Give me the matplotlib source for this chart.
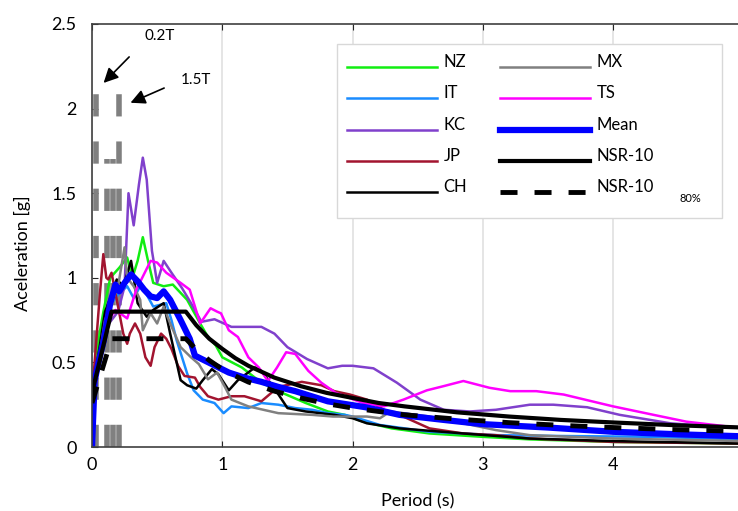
import matplotlib.pyplot as plt
from matplotlib.patches import Rectangle
from matplotlib.transforms import Affine2D

plt.rcParams['font.family'] = ['Lato', 'DejaVu Sans']

# spectra: period (s) and acceleration (g)
nz_T = [0, 0.03, 0.06, 0.09, 0.14, 0.21, 0.27, 0.31, 0.35, 0.39, 0.43, 0.47, 0.55, 0.62, 0.73,
        0.83, 0.89, 0.95, 1.0, 1.15, 1.3, 1.46, 1.64, 1.81, 1.94, 2.08, 2.3, 2.59, 3.0, 3.36,
        4.0, 4.5, 5.0]
nz_Sa = [0.3, 0.5, 0.68, 0.81, 1.0, 1.06, 1.12, 1.0, 1.1, 1.24, 1.10, 0.97, 0.95, 0.96, 0.87,
         0.73, 0.65, 0.6, 0.53, 0.47, 0.38, 0.32, 0.26, 0.21, 0.19, 0.15, 0.11, 0.08, 0.06, 0.045,
         0.03, 0.025, 0.02]

it_T = [0, 0.05, 0.1, 0.15, 0.2, 0.27, 0.32, 0.37, 0.42, 0.47, 0.52, 0.57, 0.61, 0.65, 0.73,
        0.78, 0.85, 0.94, 1.01, 1.07, 1.2, 1.3, 1.43, 1.56, 1.69, 1.81, 1.94, 2.0, 2.21, 2.59,
        3.1, 3.6, 4.31, 5.0]
it_Sa = [0.3, 0.5, 0.7, 0.85, 0.9, 0.95, 0.88, 0.95, 0.9, 0.83, 0.84, 0.85, 0.75, 0.63, 0.435,
         0.335, 0.28, 0.26, 0.20, 0.24, 0.23, 0.26, 0.25, 0.23, 0.22, 0.20, 0.19, 0.18, 0.13, 0.09,
         0.07, 0.065, 0.06, 0.045]

kc_T = [0, 0.05, 0.1, 0.15, 0.2, 0.25, 0.28, 0.32, 0.36, 0.39, 0.42, 0.46, 0.5, 0.55, 0.61,
        0.69, 0.76, 0.84, 0.94, 1.07, 1.3, 1.4, 1.5, 1.65, 1.81, 1.92, 2.0, 2.16, 2.34, 2.52,
        2.7, 2.9, 3.1, 3.36, 3.54, 3.8, 4.05, 4.44, 4.82, 5.0]
kc_Sa = [0.3, 0.5, 0.7, 0.75, 0.8, 0.95, 1.5, 1.31, 1.55, 1.71, 1.58, 1.16, 0.97, 1.10, 1.03,
         0.94, 0.85, 0.74, 0.755, 0.71, 0.71, 0.67, 0.59, 0.52, 0.465, 0.48, 0.48, 0.465, 0.38, 0.28,
         0.22, 0.21, 0.22, 0.25, 0.25, 0.235, 0.19, 0.14, 0.12, 0.115]

jp_T = [0, 0.03, 0.06, 0.087, 0.11, 0.125, 0.15, 0.2, 0.24, 0.27, 0.29, 0.33, 0.37, 0.41, 0.45,
        0.48, 0.53, 0.57, 0.61, 0.66, 0.71, 0.79, 0.83, 0.89, 0.97, 1.07, 1.17, 1.30, 1.43, 1.61,
        1.76, 1.86, 1.98, 2.11, 2.24, 2.36, 2.59, 2.85, 3.1, 3.36, 4.0, 5.0]
jp_Sa = [0.3, 0.6, 0.9, 1.14, 1.0, 0.99, 1.03, 0.83, 0.67, 0.61, 0.67, 0.73, 0.67, 0.53, 0.48,
         0.59, 0.67, 0.64, 0.58, 0.48, 0.42, 0.41, 0.355, 0.30, 0.28, 0.30, 0.30, 0.27, 0.355, 0.385,
         0.365, 0.33, 0.31, 0.28, 0.22, 0.19, 0.11, 0.08, 0.07, 0.05, 0.03, 0.02]

ch_T = [0, 0.05, 0.1, 0.15, 0.19, 0.24, 0.3, 0.35, 0.42, 0.47, 0.55, 0.6, 0.68, 0.73, 0.8,
        0.85, 0.92, 0.97, 1.05, 1.12, 1.25, 1.3, 1.41, 1.5, 1.64, 1.86, 2.0, 2.11, 2.36, 2.85,
        3.36, 4.0, 5.0]
ch_Sa = [0.3, 0.55, 0.8, 0.9, 0.99, 0.95, 1.10, 0.85, 0.77, 0.81, 0.85, 0.67, 0.395, 0.365, 0.345,
         0.395, 0.46, 0.43, 0.335, 0.395, 0.47, 0.45, 0.335, 0.23, 0.21, 0.19, 0.17, 0.14, 0.11, 0.08,
         0.05, 0.035, 0.02]

mx_T = [0, 0.05, 0.1, 0.15, 0.2, 0.25, 0.27, 0.32, 0.37, 0.39, 0.45, 0.5, 0.55, 0.6, 0.68,
        0.76, 0.82, 0.89, 0.96, 1.02, 1.07, 1.2, 1.43, 1.69, 1.85, 2.11, 2.21, 2.29, 2.59, 2.85,
        3.1, 3.36, 4.0, 5.0]
mx_Sa = [0.3, 0.5, 0.75, 0.85, 0.95, 1.18, 1.0, 0.95, 0.87, 0.69, 0.79, 0.73, 0.83, 0.73, 0.59,
         0.53, 0.49, 0.40, 0.44, 0.355, 0.28, 0.24, 0.20, 0.19, 0.18, 0.18, 0.17, 0.21, 0.18, 0.14,
         0.10, 0.07, 0.05, 0.035]

ts_T = [0, 0.03, 0.06, 0.11, 0.18, 0.27, 0.34, 0.45, 0.5, 0.57, 0.68, 0.75, 0.83, 0.91, 0.96,
        0.99, 1.05, 1.12, 1.2, 1.28, 1.35, 1.42, 1.49, 1.56, 1.66, 1.76, 1.87, 2.08, 2.24, 2.39,
        2.57, 2.7, 2.85, 3.05, 3.21, 3.41, 3.62, 4.0, 4.31, 4.56, 5.0]
ts_Sa = [0.25, 0.38, 0.53, 0.73, 0.81, 0.76, 0.93, 1.10, 1.09, 1.03, 0.97, 0.93, 0.73, 0.82, 0.80,
         0.79, 0.69, 0.65, 0.53, 0.47, 0.39, 0.47, 0.56, 0.55, 0.45, 0.38, 0.32, 0.26, 0.24, 0.28,
         0.335, 0.36, 0.39, 0.35, 0.33, 0.33, 0.31, 0.24, 0.19, 0.15, 0.11]

mean_T = [0, 0.02, 0.05, 0.09, 0.14, 0.18, 0.21, 0.25, 0.3, 0.35, 0.4, 0.45, 0.5, 0.55, 0.6,
          0.68, 0.75, 0.79, 0.92, 1.05, 1.17, 1.3, 1.43, 1.56, 1.81, 2.1, 2.36, 2.7, 3.0, 3.5,
          4.0, 4.5, 5.0]
mean_Sa = [0, 0.39, 0.5, 0.63, 0.85, 0.96, 0.92, 0.97, 1.02, 0.98, 0.93, 0.89, 0.88, 0.92, 0.87,
           0.75, 0.64, 0.54, 0.49, 0.44, 0.41, 0.385, 0.355, 0.33, 0.27, 0.235, 0.19, 0.16, 0.135,
           0.115, 0.09, 0.075, 0.063]

nsr_T = [0, 0.15, 0.72, 0.8, 0.9, 1.0, 1.1, 1.2, 1.4, 1.6, 1.8, 2.0, 2.2, 2.4, 2.8, 3.2, 3.6,
         4.0, 4.5, 5.0]
nsr_Sa = [0.32, 0.8, 0.8, 0.72, 0.64, 0.58, 0.525, 0.48, 0.41, 0.36, 0.32, 0.29, 0.26, 0.24,
          0.205, 0.18, 0.16, 0.145, 0.128, 0.115]
nsr80_Sa = [0.26, 0.64, 0.64, 0.576, 0.512, 0.46, 0.42, 0.384, 0.33, 0.29, 0.256, 0.23, 0.21,
            0.19, 0.165, 0.144, 0.128, 0.115, 0.102, 0.092]

# 0.2T / 1.5T markers
mark_T = [0.03, 0.115, 0.165, 0.21]
mark_top = [2.1, 1.7, 1.7, 2.1]

fig = plt.figure(figsize=(7.38, 5.11), dpi=100)
ax = fig.add_axes([92 / 738, 1 - 447 / 511, (743.5 - 92) / 738, (447 - 24) / 511])

for t, top in zip(mark_T, mark_top):
    ax.plot([t, t], [0, top], color='#808080', lw=4, dashes=(4, 4.5), zorder=1)

lw_rec = 1.8
h_nz, = ax.plot(nz_T, nz_Sa, color='#11ee11', lw=lw_rec, label='NZ')
h_it, = ax.plot(it_T, it_Sa, color='#1a8cff', lw=lw_rec, label='IT')
h_kc, = ax.plot(kc_T, kc_Sa, color='#8040cc', lw=lw_rec, label='KC')
h_jp, = ax.plot(jp_T, jp_Sa, color='#a2142f', lw=lw_rec, label='JP')
h_ch, = ax.plot(ch_T, ch_Sa, color='black', lw=lw_rec, label='CH')
h_mx, = ax.plot(mx_T, mx_Sa, color='#808080', lw=lw_rec, label='MX')
h_ts, = ax.plot(ts_T, ts_Sa, color='#ff00ff', lw=lw_rec, label='TS')
h_mean, = ax.plot(mean_T, mean_Sa, color='#0000ff', lw=4.5, label='Mean')
h_nsr, = ax.plot(nsr_T, nsr_Sa, color='black', lw=3, label='NSR-10')
h_nsr80, = ax.plot(nsr_T, nsr80_Sa, color='black', lw=3.5, dashes=(3.5, 3.5), label='NSR-10')

ax.set_xlim(0, 5)
ax.set_ylim(0, 2.5)
ax.set_xticks([0, 1, 2, 3, 4])
ax.set_xticklabels(['0', '1', '2', '3', '4'])
ax.set_yticks([0, 0.5, 1, 1.5, 2, 2.5])
ax.set_yticklabels(['0', '0.5', '1', '1.5', '2', '2.5'])
ax.tick_params(direction='in', length=4, width=0.8, top=True, right=True,
               labelsize=13, colors='#262626', labelcolor='black')
ax.tick_params(axis='x', pad=7)
ax.tick_params(axis='y', pad=11)
for s in ax.spines.values():
    s.set_color('#404040')
    s.set_linewidth(1.2)
ax.xaxis.grid(True, color='#e0e0e0', lw=1.2)
ax.set_axisbelow(True)

ax.set_xlabel('Period (s)', fontsize=13, labelpad=15)
ax.set_ylabel('Aceleration [g]', fontsize=13)
ax.yaxis.set_label_coords(-0.093, 0.4586)

ax.annotate('', xy=(0.074, 2.14), xytext=(0.30, 2.317),
            arrowprops=dict(arrowstyle='-|>', color='black', lw=1.2, mutation_scale=22))
ax.annotate('', xy=(0.276, 2.028), xytext=(0.573, 2.128),
            arrowprops=dict(arrowstyle='-|>', color='black', lw=1.2, mutation_scale=22))
ax.text(0.40, 2.43, '0.2T', fontsize=11, va='center', ha='left')
ax.text(0.68, 2.17, '1.5T', fontsize=11, va='center', ha='left')

# legend box drawn by hand, legend itself without frame
box = Rectangle((337 / 738, 1 - 218 / 511), (722 - 337) / 738, (218 - 44) / 511,
                transform=fig.transFigure, facecolor='white', edgecolor='#d8d8d8',
                lw=1.0, zorder=4.5, clip_on=False)
ax.add_artist(box)
leg = ax.legend(handles=[h_nz, h_it, h_kc, h_jp, h_ch, h_mx, h_ts, h_mean, h_nsr, h_nsr80],
                ncol=2, loc='upper left', bbox_to_anchor=(337 / 738, 1 - 44 / 511),
                bbox_transform=fig.transFigure, borderaxespad=0, fontsize=12,
                handlelength=5.4, handletextpad=0.38, columnspacing=2.0, labelspacing=0.92,
                frameon=False, borderpad=0.6)
for h in leg.legend_handles:
    h.set_transform(h.get_transform() + Affine2D().translate(0, -6))
fig.text(690 / 738, 1 - 198 / 511, '80%', fontsize=8, ha='center', va='center')

plt.savefig('out.png', dpi=100)
